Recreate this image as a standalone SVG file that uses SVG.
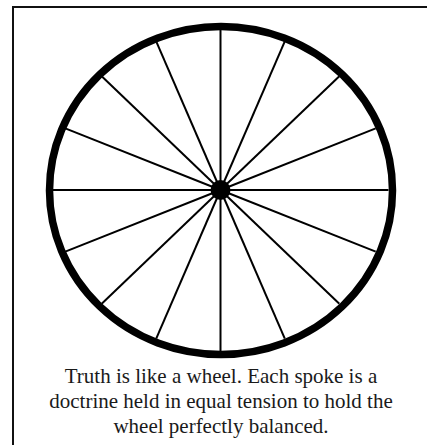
<svg xmlns="http://www.w3.org/2000/svg" width="427" height="445" viewBox="0 0 427 445">
  <style>
    .frame { fill: #ffffff; stroke: #111111; stroke-width: 2; }
    .rim { fill: none; stroke: #000000; stroke-width: 7.5; }
    .spoke { stroke: #000000; stroke-width: 2; stroke-linecap: butt; }
    .hub { fill: #000000; }
    .caption { font-size: 21px; fill: #1a1a1a; text-anchor: middle; }
  </style>
  <rect class="frame" x="13" y="7" width="430" height="450"/>
  <g id="spokes">
    <line class="spoke" x1="220.5" y1="190" x2="388.5" y2="190"/>
    <line class="spoke" x1="220.5" y1="190" x2="375.7" y2="251.6"/>
    <line class="spoke" x1="220.5" y1="190" x2="339.3" y2="303.8"/>
    <line class="spoke" x1="220.5" y1="190" x2="284.8" y2="338.7"/>
    <line class="spoke" x1="220.5" y1="190" x2="220.5" y2="351"/>
    <line class="spoke" x1="220.5" y1="190" x2="156.2" y2="338.7"/>
    <line class="spoke" x1="220.5" y1="190" x2="101.7" y2="303.8"/>
    <line class="spoke" x1="220.5" y1="190" x2="65.3" y2="251.6"/>
    <line class="spoke" x1="220.5" y1="190" x2="52.5" y2="190"/>
    <line class="spoke" x1="220.5" y1="190" x2="65.3" y2="128.4"/>
    <line class="spoke" x1="220.5" y1="190" x2="101.7" y2="76.2"/>
    <line class="spoke" x1="220.5" y1="190" x2="156.2" y2="41.3"/>
    <line class="spoke" x1="220.5" y1="190" x2="220.5" y2="29"/>
    <line class="spoke" x1="220.5" y1="190" x2="284.8" y2="41.3"/>
    <line class="spoke" x1="220.5" y1="190" x2="339.3" y2="76.2"/>
    <line class="spoke" x1="220.5" y1="190" x2="375.7" y2="128.4"/>
  </g>
  <g id="rim">
    <ellipse class="rim" cx="221" cy="190.4" rx="171.5" ry="164"/>
  </g>
  <g id="hub">
    <circle class="hub" cx="220.5" cy="190" r="10"/>
  </g>
  <g id="caption" font-family="'Liberation Serif', 'DejaVu Serif', serif">
    <text class="caption" x="221" y="383">Truth is like a wheel. Each spoke is a</text>
    <text class="caption" x="221" y="408">doctrine held in equal tension to hold the</text>
    <text class="caption" x="221" y="433">wheel perfectly balanced.</text>
  </g>
</svg>
